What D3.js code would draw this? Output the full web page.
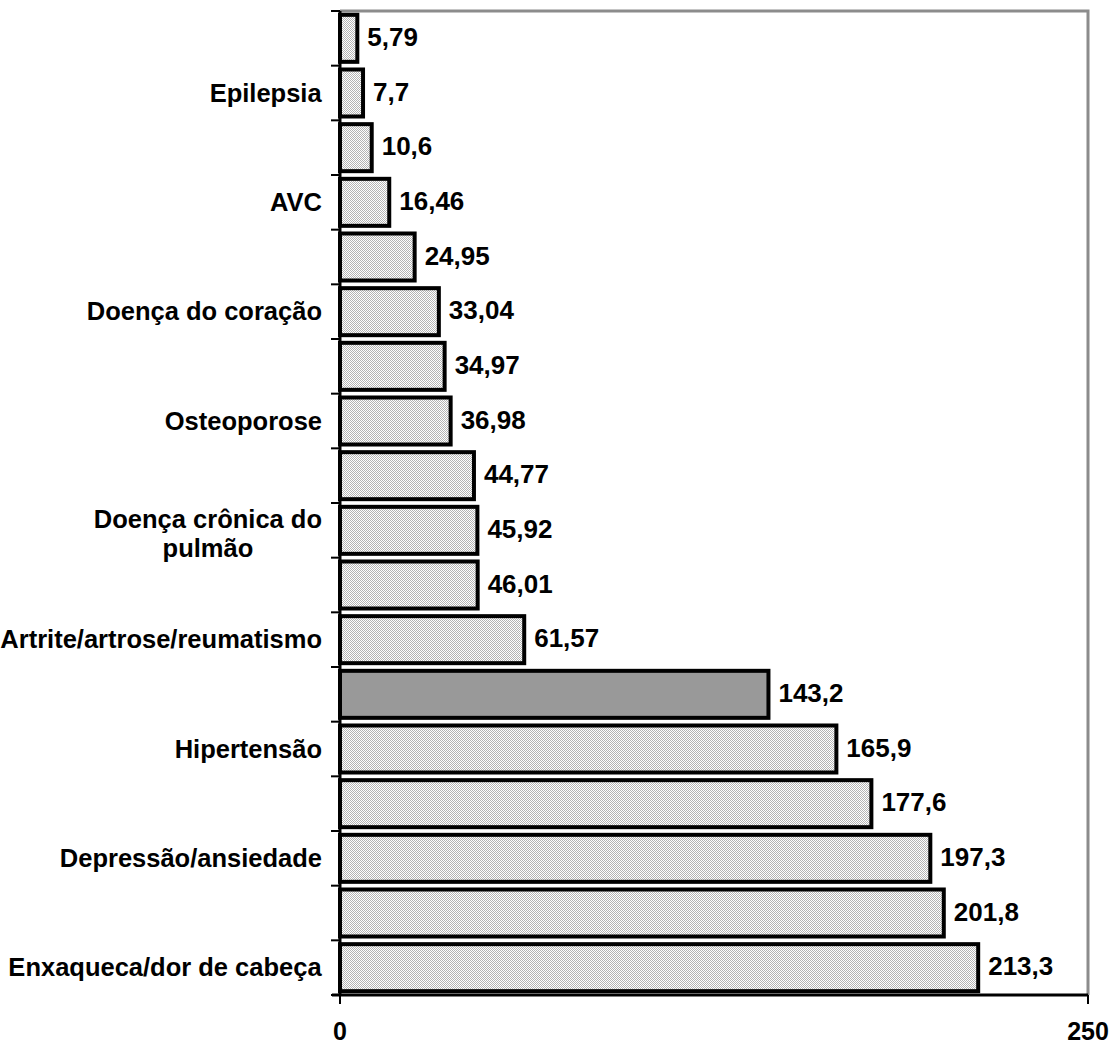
<!DOCTYPE html>
<html>
<head>
<meta charset="utf-8">
<script src="https://cdn.jsdelivr.net/npm/d3@7/dist/d3.min.js"></script>
<style>
  html, body { margin: 0; padding: 0; background: #fff; }
  svg { display: block; font-family: "Liberation Sans", Arial, sans-serif; }
</style>
</head>
<body>
<svg id="chart" width="1113" height="1047"></svg>
<script>
// Conditions, top to bottom; alternate rows carry no visible label
const categories = [
  "", "Epilepsia", "", "AVC", "", "Doença do coração", "", "Osteoporose", "",
  "Doença crônica do|pulmão", "", "Artrite/artrose/reumatismo", "", "Hipertensão",
  "", "Depressão/ansiedade", "", "Enxaqueca/dor de cabeça"
];
const values = [
  5.79, 7.7, 10.6, 16.46, 24.95, 33.04, 34.97, 36.98, 44.77,
  45.92, 46.01, 61.57, 143.2, 165.9, 177.6, 197.3, 201.8, 213.3
];
const valueLabels = [
  "5,79", "7,7", "10,6", "16,46", "24,95", "33,04", "34,97", "36,98", "44,77",
  "45,92", "46,01", "61,57", "143,2", "165,9", "177,6", "197,3", "201,8", "213,3"
];
const highlighted = [false, false, false, false, false, false, false, false, false,
  false, false, false, true, false, false, false, false, false];
const xTicks = [0, 250];

const svg = d3.select("#chart");
const plotL = 340, plotR = 1088, plotT = 11, plotB = 995;

const x = d3.scaleLinear().domain([0, 250]).range([plotL, plotR]);
const y = d3.scaleBand().domain(d3.range(values.length)).range([plotT, plotB])
  .paddingInner(0.14).paddingOuter(0.07);

// dithered light-grey fill
const defs = svg.append("defs");
const pat = defs.append("pattern").attr("id", "dither")
  .attr("width", 2).attr("height", 2).attr("patternUnits", "userSpaceOnUse");
pat.append("rect").attr("width", 2).attr("height", 2).attr("fill", "#ffffff");
pat.append("rect").attr("width", 1).attr("height", 1).attr("fill", "#b4b4b4");
pat.append("rect").attr("x", 1).attr("y", 1).attr("width", 1).attr("height", 1).attr("fill", "#b4b4b4");

// plot frame: grey top and right
svg.append("path")
  .attr("d", `M${plotL},${plotT}H${plotR}V${plotB}`)
  .attr("fill", "none").attr("stroke", "#8c8c8c").attr("stroke-width", 3);

// bars
svg.append("g").selectAll("rect").data(values).join("rect")
  .attr("x", x(0))
  .attr("y", (d, i) => y(i))
  .attr("width", d => x(d) - x(0))
  .attr("height", y.bandwidth())
  .attr("fill", (d, i) => highlighted[i] ? "#999999" : "url(#dither)")
  .attr("stroke", "#000").attr("stroke-width", 4);

// value labels
svg.append("g").selectAll("text").data(values).join("text")
  .attr("x", d => x(d) + 10)
  .attr("y", (d, i) => y(i) + y.bandwidth() / 2)
  .attr("dy", "0.3em")
  .attr("font-size", 26).attr("font-weight", "bold")
  .text((d, i) => valueLabels[i]);

// left axis with ticks at band boundaries
const rowH = (plotB - plotT) / values.length;
const bounds = d3.range(values.length + 1).map(i => plotT + i * rowH);
const axL = svg.append("g");
axL.append("line").attr("x1", plotL).attr("x2", plotL).attr("y1", plotT).attr("y2", plotB)
  .attr("stroke", "#000").attr("stroke-width", 3);
axL.selectAll("line.tick").data(bounds).join("line").attr("class", "tick")
  .attr("x1", plotL - 9).attr("x2", plotL).attr("y1", d => d).attr("y2", d => d)
  .attr("stroke", "#000").attr("stroke-width", 2);

// category labels (a "|" marks a line break)
const catG = svg.append("g");
categories.forEach((c, i) => {
  if (!c) return;
  const lines = c.split("|");
  const cy = y(i) + y.bandwidth() / 2;
  const t = catG.append("text")
    .attr("text-anchor", "middle")
    .attr("font-size", 25.5).attr("font-weight", "bold");
  lines.forEach((ln, k) => {
    const off = lines.length > 1 ? (k === 0 ? -11 : 18) : 0;
    t.append("tspan").attr("x", 0)
      .attr("y", cy + off)
      .attr("dy", "0.34em").text(ln);
  });
  const w = t.node().getBBox().width;
  t.attr("transform", `translate(${322 - w / 2},0)`);
});

// bottom axis
const axB = svg.append("g");
axB.append("line").attr("x1", plotL - 8).attr("x2", plotR).attr("y1", plotB).attr("y2", plotB)
  .attr("stroke", "#000").attr("stroke-width", 3);
axB.selectAll("line.tick").data(xTicks).join("line").attr("class", "tick")
  .attr("x1", d => x(d)).attr("x2", d => x(d)).attr("y1", plotB).attr("y2", plotB + 9)
  .attr("stroke", "#000").attr("stroke-width", 2);
axB.selectAll("text").data(xTicks).join("text")
  .attr("x", d => x(d)).attr("y", 1040)
  .attr("text-anchor", "middle").attr("font-size", 25).attr("font-weight", "bold")
  .text(d => d);
</script>
</body>
</html>
